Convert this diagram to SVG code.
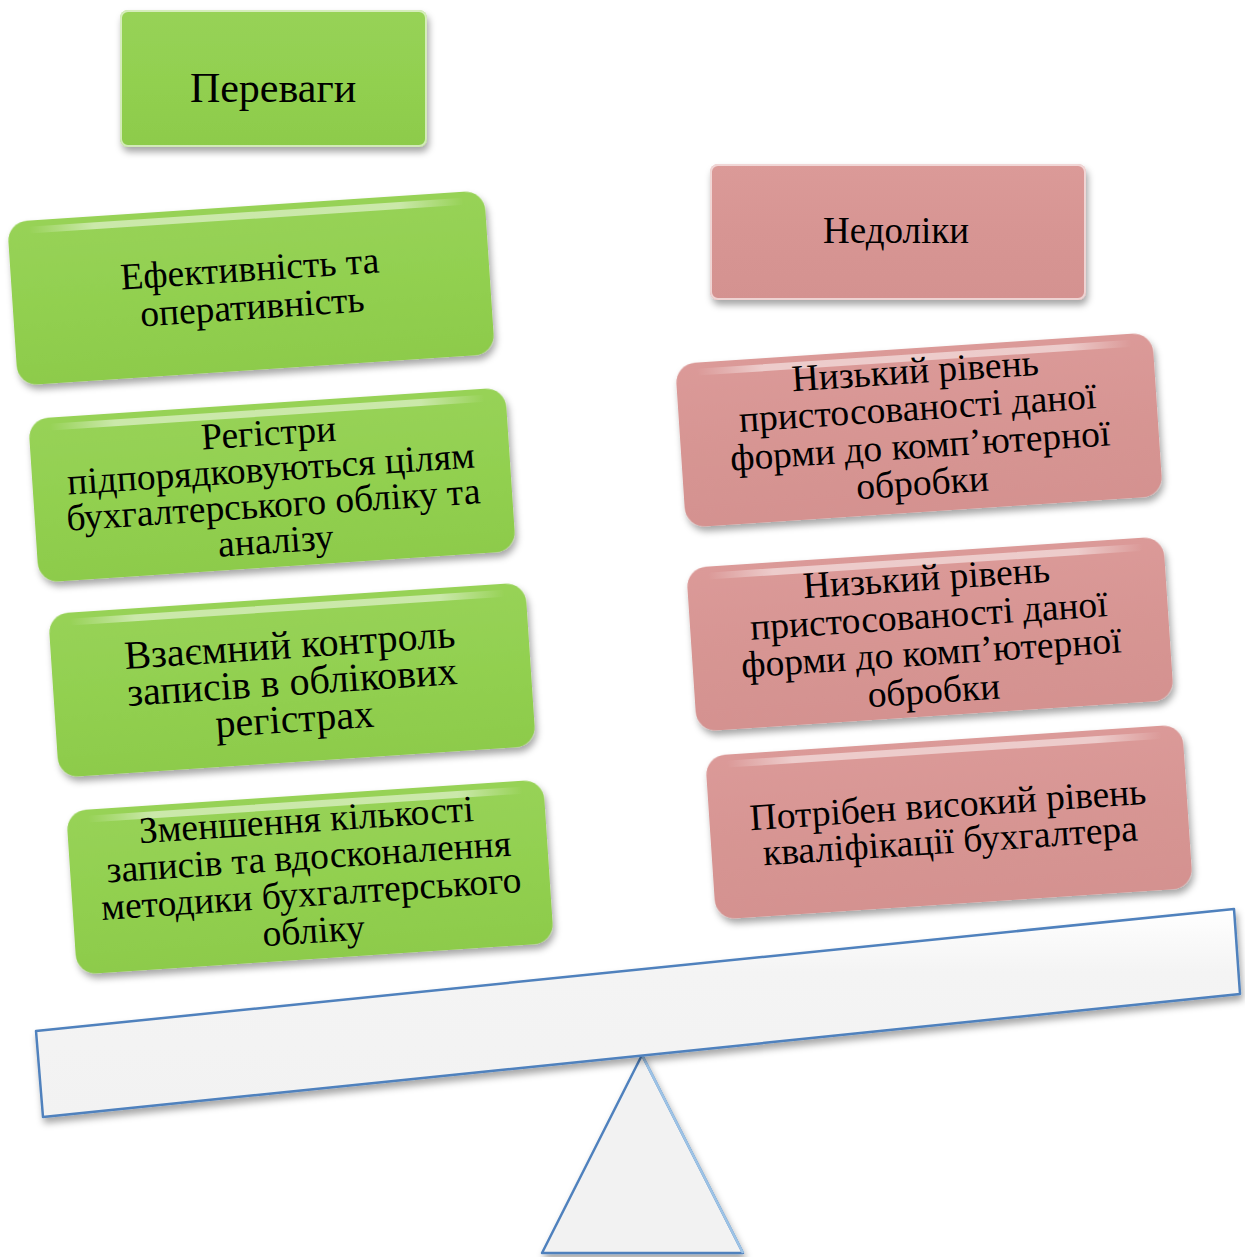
<svg xmlns="http://www.w3.org/2000/svg" width="1245" height="1257" viewBox="0 0 1245 1257">
  <defs>
    <style>
      .lbl { font-family: "Liberation Serif", "Times New Roman", serif; fill: #000; text-anchor: middle; }
      .green { fill: url(#gGreen); }
      .pink { fill: url(#gPink); }
      .hl { fill: url(#gHl); }
      .box { filter: url(#shadow); }
      .scaleStroke { stroke: #4F81BD; stroke-width: 2.5; stroke-linejoin: round; }
    </style>
    <linearGradient id="gGreen" x1="0" y1="0" x2="0" y2="1">
      <stop offset="0" stop-color="#97D257"/>
      <stop offset="0.5" stop-color="#92D050"/>
      <stop offset="1" stop-color="#8DCB4B"/>
    </linearGradient>
    <linearGradient id="gPink" x1="0" y1="0" x2="0" y2="1">
      <stop offset="0" stop-color="#DB9A98"/>
      <stop offset="0.5" stop-color="#D79593"/>
      <stop offset="1" stop-color="#D49290"/>
    </linearGradient>
    <linearGradient id="gHl" x1="0" y1="0" x2="1" y2="0">
      <stop offset="0" stop-color="#FFFFFF" stop-opacity="0"/>
      <stop offset="0.15" stop-color="#FFFFFF" stop-opacity="0.5"/>
      <stop offset="0.85" stop-color="#FFFFFF" stop-opacity="0.5"/>
      <stop offset="1" stop-color="#FFFFFF" stop-opacity="0"/>
    </linearGradient>
    <linearGradient id="gBeam" x1="0" y1="0" x2="0" y2="1">
      <stop offset="0" stop-color="#FFFFFF"/>
      <stop offset="0.3" stop-color="#F4F4F4"/>
      <stop offset="1" stop-color="#F2F2F2"/>
    </linearGradient>
    <filter id="shadow" x="-10%" y="-20%" width="125%" height="150%">
      <feDropShadow dx="2" dy="5" stdDeviation="3.5" flood-color="#000000" flood-opacity="0.35"/>
    </filter>
  </defs>

  <!-- scale (beam and fulcrum) -->
  <g id="connectors">
    <g id="scale">
      <polygon points="642,1055 743,1253 542,1253" fill="#F2F2F2" class="scaleStroke" filter="url(#shadow)"/>
      <line x1="642" y1="1055" x2="743" y2="1253" stroke="#9DC3E6" stroke-width="2.5"/>
      <polygon points="36,1031 1234,909 1240,994 43,1117" fill="url(#gBeam)" class="scaleStroke" filter="url(#shadow)"/>
    </g>
  </g>

  <!-- headers -->
  <g id="header-pereva">
    <rect class="green box" x="120" y="10" width="307" height="137" rx="8"/>
    <rect x="121" y="11" width="305" height="135" rx="7" fill="none" stroke="#FFFFFF" stroke-opacity="0.6" stroke-width="2"/>
    <text class="lbl" x="273" y="102" font-size="42">Переваги</text>
  </g>
  <g id="header-nedoliky">
    <rect class="pink box" x="710" y="164" width="376" height="136" rx="8"/>
    <rect x="711" y="165" width="374" height="134" rx="7" fill="none" stroke="#FFFFFF" stroke-opacity="0.6" stroke-width="2"/>
    <text class="lbl" x="896" y="243" font-size="37">Недоліки</text>
  </g>

  <!-- advantages -->
  <g id="adv1" transform="translate(251,288) rotate(-3.8)">
    <rect class="green box" x="-239" y="-82" width="478" height="164" rx="20"/>
    <rect class="hl" x="-218" y="-76" width="436" height="7" rx="3.5"/>
    <text class="lbl" font-size="37.5"><tspan x="0" y="-7">Ефективність та</tspan><tspan x="0" y="31">оперативність</tspan></text>
  </g>
  <g id="adv2" transform="translate(272,485) rotate(-3.8)">
    <rect class="green box" x="-239" y="-82" width="478" height="164" rx="20"/>
    <rect class="hl" x="-218" y="-76" width="436" height="7" rx="3.5"/>
    <text class="lbl" font-size="37.5"><tspan x="0" y="-40">Регістри</tspan><tspan x="0" y="-4">підпорядковуються цілям</tspan><tspan x="0" y="32">бухгалтерського обліку та</tspan><tspan x="0" y="68">аналізу</tspan></text>
  </g>
  <g id="adv3" transform="translate(292,680) rotate(-3.8)">
    <rect class="green box" x="-239" y="-82" width="478" height="164" rx="20"/>
    <rect class="hl" x="-218" y="-76" width="436" height="7" rx="3.5"/>
    <text class="lbl" font-size="40"><tspan x="0" y="-22">Взаємний контроль</tspan><tspan x="0" y="15">записів в облікових</tspan><tspan x="0" y="52">регістрах</tspan></text>
  </g>
  <g id="adv4" transform="translate(310,877) rotate(-3.8)">
    <rect class="green box" x="-239" y="-82" width="478" height="164" rx="20"/>
    <rect class="hl" x="-218" y="-76" width="436" height="7" rx="3.5"/>
    <text class="lbl" font-size="37.5"><tspan x="0" y="-45">Зменшення кількості</tspan><tspan x="0" y="-8">записів та вдосконалення</tspan><tspan x="0" y="29">методики бухгалтерського</tspan><tspan x="0" y="66">обліку</tspan></text>
  </g>

  <!-- disadvantages -->
  <g id="dis1" transform="translate(919,430) rotate(-3.8)">
    <rect class="pink box" x="-239" y="-82" width="478" height="164" rx="20"/>
    <rect class="hl" x="-218" y="-76" width="436" height="7" rx="3.5"/>
    <text class="lbl" font-size="37.5"><tspan x="0" y="-47">Низький рівень</tspan><tspan x="0" y="-10">пристосованості даної</tspan><tspan x="0" y="28">форми до комп’ютерної</tspan><tspan x="0" y="65">обробки</tspan></text>
  </g>
  <g id="dis2" transform="translate(930,634) rotate(-3.8)">
    <rect class="pink box" x="-239" y="-82" width="478" height="164" rx="20"/>
    <rect class="hl" x="-218" y="-76" width="436" height="7" rx="3.5"/>
    <text class="lbl" font-size="37.5"><tspan x="0" y="-44">Низький рівень</tspan><tspan x="0" y="-6">пристосованості даної</tspan><tspan x="0" y="31">форми до комп’ютерної</tspan><tspan x="0" y="69">обробки</tspan></text>
  </g>
  <g id="dis3" transform="translate(949,822) rotate(-3.8)">
    <rect class="pink box" x="-239" y="-82" width="478" height="164" rx="20"/>
    <rect class="hl" x="-218" y="-76" width="436" height="7" rx="3.5"/>
    <text class="lbl" font-size="37.5"><tspan x="0" y="-5">Потрібен високий рівень</tspan><tspan x="0" y="31">кваліфікації бухгалтера</tspan></text>
  </g>
</svg>
